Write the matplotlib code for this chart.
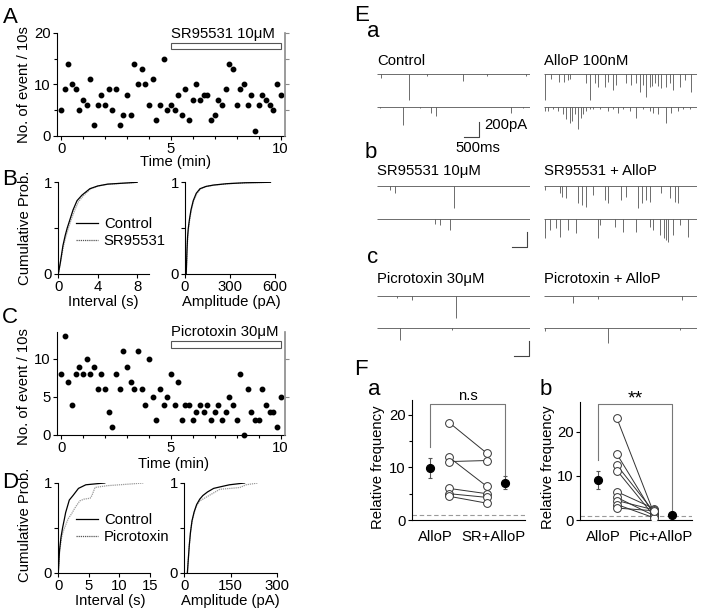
import matplotlib
matplotlib.use('Agg')
import matplotlib.pyplot as plt
import numpy as np
from matplotlib.patches import Rectangle

plt.rcParams['font.family'] = ['Liberation Sans', 'DejaVu Sans']
FS = 10.7
plt.rcParams['font.size'] = FS
plt.rcParams['axes.linewidth'] = 0.8
plt.rcParams['xtick.major.size'] = 3
plt.rcParams['ytick.major.size'] = 3
plt.rcParams['xtick.minor.size'] = 2.5
plt.rcParams['ytick.minor.size'] = 2.5
plt.rcParams['xtick.major.width'] = 0.8
plt.rcParams['ytick.major.width'] = 0.8
plt.rcParams['xtick.minor.width'] = 0.8
plt.rcParams['ytick.minor.width'] = 0.8
plt.rcParams['xtick.major.pad'] = 1.5
plt.rcParams['ytick.major.pad'] = 1.5

# ---------------- data ----------------
# Panel A: events per 10 s bin (61 bins, 0-10 min)
countsA = [5, 9, 14, 10, 9, 5, 7, 6, 11, 2, 6, 8, 6, 9, 5, 9, 2, 4, 8, 4,
           14, 10, 13, 10, 6, 11, 3, 6, 15, 5, 6, 5, 8, 4, 9, 3, 7, 10, 7, 8,
           8, 3, 4, 7, 6, 9, 14, 13, 6, 9, 10, 6, 8, 1, 6, 8, 7, 6, 5, 10, 8]
# Panel C
countsC = [8, 13, 7, 4, 8, 9, 8, 10, 8, 9, 6, 8, 6, 3, 1, 8, 6, 11, 9, 7,
           6, 11, 6, 4, 10, 5, 2, 6, 4, 5, 8, 4, 7, 2, 4, 4, 2, 3, 4, 3,
           4, 2, 3, 4, 2, 3, 5, 4, 2, 8, 0, 6, 3, 2, 2, 6, 4, 3, 3, 1, 5]
bin_minutes = np.arange(61) / 6.0

# Panel B cumulative distributions
B_int_ctrl_x = [0, 0.2, 0.47, 0.7, 0.9, 1.2, 1.5, 1.9, 2.4, 3.2, 4.0, 5.0, 6.5, 8.0]
B_int_ctrl_y = [0, 0.12, 0.31, 0.42, 0.5, 0.6, 0.7, 0.8, 0.86, 0.93, 0.96, 0.98, 0.99, 1.0]
B_int_sr_x = [0, 0.2, 0.5, 0.75, 1.0, 1.3, 1.65, 2.05, 2.6, 3.3, 4.1, 5.1, 6.6, 8.0]
B_int_sr_y = [0, 0.11, 0.29, 0.4, 0.49, 0.59, 0.69, 0.79, 0.86, 0.93, 0.96, 0.98, 0.99, 1.0]
B_amp_ctrl_x = [8, 10, 13, 17, 22, 30, 40, 55, 75, 100, 140, 190, 280, 400, 570]
B_amp_ctrl_y = [0, 0.1, 0.25, 0.4, 0.5, 0.6, 0.7, 0.8, 0.88, 0.93, 0.955, 0.97, 0.985, 0.995, 1.0]
B_amp_sr_x = [9, 11, 14, 18, 24, 32, 43, 58, 80, 105, 145, 200, 290, 410, 570]
B_amp_sr_y = [0, 0.1, 0.25, 0.4, 0.5, 0.6, 0.7, 0.8, 0.88, 0.93, 0.955, 0.97, 0.985, 0.995, 1.0]

# Panel D cumulative distributions
D_int_ctrl_x = [0, 0.2, 0.45, 0.7, 1.0, 1.2, 1.5, 1.8, 2.4, 3.3, 4.5, 6.0, 7.6]
D_int_ctrl_y = [0, 0.25, 0.4, 0.5, 0.6, 0.67, 0.74, 0.81, 0.86, 0.94, 0.98, 0.99, 1.0]
D_int_pic_x = [0, 0.2, 0.5, 0.8, 1.2, 1.6, 2.2, 2.7, 3.5, 4.2, 5.2, 5.5, 6.0, 8.0, 10.0, 12.0, 13.9]
D_int_pic_y = [0, 0.22, 0.38, 0.46, 0.53, 0.6, 0.66, 0.72, 0.8, 0.82, 0.83, 0.86, 0.95, 0.97, 0.98, 0.99, 1.0]
D_amp_ctrl_x = [10, 13, 16, 20, 25, 32, 40, 50, 60, 75, 95, 120, 146, 195]
D_amp_ctrl_y = [0, 0.15, 0.3, 0.45, 0.58, 0.68, 0.76, 0.82, 0.86, 0.9, 0.94, 0.96, 0.98, 1.0]
D_amp_pic_x = [10, 13, 16, 20, 25, 32, 40, 50, 65, 80, 100, 115, 150, 180, 200, 238]
D_amp_pic_y = [0, 0.15, 0.3, 0.45, 0.57, 0.67, 0.75, 0.8, 0.83, 0.86, 0.9, 0.93, 0.94, 0.95, 0.98, 1.0]

# Panel E: event times (s) and amplitudes (pA) for each sweep
E_traces = {
    'ctrl_1': ([0.13, 1.08, 1.67, 2.89, 3.67, 4.97], [55, 345, 25, 95, 25, 25]),
    'ctrl_2': ([0.11, 0.87, 1.44, 1.80, 1.98, 4.47, 4.89], [20, 245, 20, 90, 125, 90, 20]),
    'allo_1': ([0.04, 0.24, 0.5, 0.66, 0.8, 0.88, 1.41, 1.52, 1.69, 1.8, 2.02, 2.13, 2.3, 2.39,
                2.74, 2.91, 3.06, 3.19, 3.3, 3.39, 3.52, 3.6, 3.69, 3.8, 3.91, 4.08, 4.19, 4.3,
                4.52, 4.69, 4.89],
               [347, 71, 102, 102, 80, 71, 124, 347, 124, 169, 169, 102, 213, 147,
                124, 147, 124, 235, 147, 302, 169, 160, 124, 160, 191, 169, 124, 213,
                169, 80, 235]),
    'allo_2': ([0.02, 0.13, 0.3, 0.47, 0.63, 0.74, 0.86, 0.93, 1.02, 1.13, 1.24, 1.3, 1.41, 1.52,
                1.63, 1.86, 2.13, 2.3, 2.47, 2.63, 2.86, 3.08, 3.3, 3.52, 3.63, 3.8, 4.06, 4.24,
                4.47, 4.63, 4.86],
               [58, 58, 36, 58, 102, 169, 213, 191, 102, 300, 147, 102, 58, 36,
                36, 36, 58, 36, 80, 36, 58, 147, 36, 58, 80, 102, 213, 80,
                58, 36, 27]),
    'sr_1': ([0.44, 0.61, 2.59], [53, 98, 297]),
    'sr_2': ([1.94, 2.11, 2.44], [62, 75, 142]),
    'sralo_1': ([0.04, 0.52, 0.61, 0.74, 1.13, 1.28, 1.41, 1.63, 2.02, 2.13, 2.58, 2.74, 3.13,
                 3.28, 3.39, 3.52, 3.91, 4.19, 4.36, 4.47],
                [53, 98, 142, 164, 231, 253, 275, 120, 186, 231, 186, 142, 297,
                 231, 186, 209, 98, 164, 209, 231]),
    'sralo_2': ([0.04, 0.19, 0.41, 0.52, 0.8, 1.08, 1.8, 1.86, 2.36, 2.63, 3.08, 3.52, 3.63,
                 3.86, 3.99, 4.08, 4.13, 4.3, 4.52, 4.8],
                [253, 142, 120, 231, 142, 186, 253, 75, 98, 164, 164, 98, 142,
                 209, 253, 275, 297, 209, 75, 231]),
    'pic_1': ([0.67, 1.17, 2.64], [31, 53, 297]),
    'pic_2': ([0.78, 2.5], [155, 22]),
    'picalo_1': ([0.97, 1.8, 4.61], [98, 44, 53]),
    'picalo_2': ([0.02, 2.13, 4.52], [31, 200, 22]),
}
E_titles = ['Control', 'AlloP 100nM', 'SR95531 10\u03bcM', 'SR95531 + AlloP',
            'Picrotoxin 30\u03bcM', 'Picrotoxin + AlloP']

# Panel F
Fa_allo = [18.5, 11.9, 11.1, 6.0, 5.0, 4.5]
Fa_sr = [12.7, 6.4, 11.3, 5.0, 4.3, 3.2]
Fa_mean = [9.8, 7.0]
Fa_err_lo = [8.0, 5.8]
Fa_err_hi = [11.7, 8.3]
Fb_allo = [23.0, 14.9, 12.4, 11.2, 6.4, 5.1, 4.4, 3.5, 2.7]
Fb_pic = [1.5, 1.2, 1.8, 0.9, 2.6, 1.0, 2.3, 0.5, 2.1]
Fb_mean = [9.0, 1.2]
Fb_err_lo = [7.0, 0.9]
Fb_err_hi = [11.0, 1.5]
F_labels_a = ['AlloP', 'SR+AlloP']
F_labels_b = ['AlloP', 'Pic+AlloP']

# ---------------- figure ----------------
W, H = 709, 611
fig = plt.figure(figsize=(W / 100, H / 100), dpi=100)


def px_axes(l, t, r, b):
    return fig.add_axes([l / W, 1 - b / H, (r - l) / W, (b - t) / H])


def ftext(x, y, s, **kw):
    fig.text(x / W, 1 - y / H, s, **kw)


def style(ax):
    ax.spines['top'].set_visible(False)
    ax.spines['right'].set_visible(False)
    ax.tick_params(direction='out', which='both')


GRAY = '#8a8a8a'


def timecourse(ax, counts, ylim, yt, ymin_minor, right_ticks, drug, bar_y, text_y):
    ax.plot(bin_minutes, counts, 'o', color='black', ms=3.2, clip_on=False, zorder=3)
    ax.set_xlim(-0.2, 10.2)
    ax.set_ylim(*ylim)
    style(ax)
    ax.set_xticks([0, 5, 10])
    ax.set_xticks(np.arange(0, 11, 1), minor=True)
    ax.set_yticks(yt)
    ax.set_yticks(ymin_minor, minor=True)
    tw = ax.twinx()
    tw.set_ylim(*ylim)
    for s in ['top', 'left', 'bottom']:
        tw.spines[s].set_visible(False)
    tw.spines['right'].set_color(GRAY)
    tw.spines['right'].set_linewidth(1.2)
    tw.set_yticks(right_ticks)
    tw.tick_params(axis='y', colors=GRAY, labelright=False, direction='out')
    ax.add_patch(Rectangle((5, bar_y[0]), 5, bar_y[1] - bar_y[0], facecolor='white',
                           edgecolor='#555555', lw=0.8, clip_on=False, zorder=4))
    ax.text(5, text_y, drug, ha='left', va='baseline', fontsize=FS, clip_on=False)


# Panel A
axA = px_axes(56.7, 33, 285, 135.7)
timecourse(axA, countsA, (0, 20), [0, 10, 20], [5, 15], [5, 10, 15, 20],
           'SR95531 10\u03bcM', (16.8, 18.0), 19.1)
# Panel C
axC = px_axes(56.7, 332, 285, 435)
timecourse(axC, countsC, (0, 13.55), [0, 5, 10], [], [5, 10],
           'Picrotoxin 30\u03bcM', (11.5, 12.4), 13.0)

ftext(24, 85, 'No. of event / 10s', rotation=90, ha='center', va='center')
ftext(175, 162, 'Time (min)', ha='center', va='center')
ftext(24, 387, 'No. of event / 10s', rotation=90, ha='center', va='center')
ftext(173, 464, 'Time (min)', ha='center', va='center')


def cdf_axes(ax, xs1, ys1, xs2, ys2, xlim, xt):
    ax.plot(xs1, ys1, color='black', lw=0.9, zorder=3)
    ax.plot(xs2, ys2, color='#9a9a9a', lw=0.9, ls=(0, (1, 0.7)), zorder=2)
    ax.set_xlim(*xlim)
    ax.set_ylim(0, 1)
    style(ax)
    ax.set_xticks(xt)
    ax.set_yticks([0, 0.5, 1])
    ax.set_yticklabels(['0', '', '1'])


axBl = px_axes(58.3, 182.3, 149, 274)
cdf_axes(axBl, B_int_ctrl_x, B_int_ctrl_y, B_int_sr_x, B_int_sr_y, (0, 9.2), [0, 4, 8])
axBr = px_axes(185, 182.3, 275, 274)
cdf_axes(axBr, B_amp_ctrl_x, B_amp_ctrl_y, B_amp_sr_x, B_amp_sr_y, (0, 600), [0, 300, 600])
axDl = px_axes(58.3, 483, 150, 572.7)
cdf_axes(axDl, D_int_ctrl_x, D_int_ctrl_y, D_int_pic_x, D_int_pic_y, (0, 15), [0, 5, 10, 15])
axDr = px_axes(184.3, 483, 277, 572.7)
cdf_axes(axDr, D_amp_ctrl_x, D_amp_ctrl_y, D_amp_pic_x, D_amp_pic_y, (0, 300), [0, 150, 300])

for ax, lab, yanc in [(axBl, 'SR95531', 0.62), (axDl, 'Picrotoxin', 0.665)]:
    h1, = ax.plot([], [], color='black', lw=0.9)
    h2, = ax.plot([], [], color='#555555', lw=0.9, ls=(0, (1, 0.7)))
    ax.legend([h1, h2], ['Control', lab], loc='upper left', bbox_to_anchor=(0.19, yanc),
              frameon=False, handlelength=1.5, handletextpad=0.4, labelspacing=0.2,
              borderaxespad=0, borderpad=0, fontsize=FS)

ftext(25, 228, 'Cumulative Prob.', rotation=90, ha='center', va='center')
ftext(103, 302, 'Interval (s)', ha='center', va='center')
ftext(231, 302, 'Amplitude (pA)', ha='center', va='center')
ftext(25, 525, 'Cumulative Prob.', rotation=90, ha='center', va='center')
ftext(110, 601, 'Interval (s)', ha='center', va='center')
ftext(230, 601, 'Amplitude (pA)', ha='center', va='center')

# Panel E traces
PX_PER_PA = 15 / 200.0
trace_x0 = [376.7, 544.0]
trace_rows = [(74, 106.7), (186, 219.3), (296, 328.3)]
keys = [('ctrl', 'allo'), ('sr', 'sralo'), ('pic', 'picalo')]
trace_axes = {}
for gi, (base1, base2) in enumerate(trace_rows):
    for ci in range(2):
        for ri, base in enumerate([base1, base2]):
            key = keys[gi][ci] + '_' + str(ri + 1)
            ax = px_axes(trace_x0[ci], base - 30 * PX_PER_PA, trace_x0[ci] + 153,
                         base + 420 * PX_PER_PA)
            ax.set_xlim(0, 5.1)
            ax.set_ylim(-420, 30)
            ax.axis('off')
            t, a = E_traces[key]
            ax.hlines(0, 0, 5.1, color='#555555', lw=0.6)
            ax.vlines(t, [-v for v in a], 0, color='#555555', lw=0.6)
            trace_axes[key] = ax

scale_specs = [('ctrl_2', 2.92, -400), ('sr_2', 4.5, -375), ('pic_2', 4.58, -370)]
for key, xs, yb in scale_specs:
    ax = trace_axes[key]
    ax.plot([xs, xs + 0.5, xs + 0.5], [yb, yb, yb + 200], color='#444444', lw=0.8,
            clip_on=False)
ax = trace_axes['ctrl_2']
ax.text(3.58, -245, '200pA', ha='left', va='center', fontsize=FS)
ax.text(3.38, -545, '500ms', ha='center', va='center', fontsize=FS)

title_pos = [(377, 65), (544, 65), (377, 175), (544, 175), (377, 283), (544, 283)]
for (x, y), s in zip(title_pos, E_titles):
    ftext(x, y, s, ha='left', va='baseline')


# Panel F
def fpanel(ax, allo, other, means, lo, hi, ylim, yt, labels, sig, br, sig_y, sig_fs):
    for a, b in zip(allo, other):
        ax.plot([1, 3], [a, b], color='#333333', lw=0.7, zorder=2)
    ax.plot([1] * len(allo), allo, 'o', mfc='white', mec='#333333', ms=5.6, mew=0.7, zorder=3)
    ax.plot([3] * len(other), other, 'o', mfc='white', mec='#333333', ms=5.6, mew=0.7, zorder=3)
    for xi, m, l, h in zip([0, 4], means, lo, hi):
        ax.errorbar(xi, m, yerr=[[m - l], [h - m]], fmt='o', color='black', ms=5.6,
                    ecolor='#555555', elinewidth=0.8, capsize=1.5, capthick=0.8, zorder=4)
    ax.axhline(1, color='#9a9a9a', lw=0.8, ls=(0, (4, 2.5)), zorder=1)
    ax.plot([0, 0, 4, 4], br, color='#777777', lw=0.8, clip_on=False)
    ax.text(2.0, sig_y, sig, ha='center', va='center', fontsize=sig_fs, clip_on=False)
    ax.set_xlim(-1.0, 5.04)
    ax.set_ylim(*ylim)
    style(ax)
    ax.set_yticks(yt)
    ax.set_xticks([0.25, 3.35])
    ax.set_xticklabels(labels)
    ax.tick_params(axis='x', length=0, pad=7)


axFa = px_axes(411.7, 400, 525, 520)
fpanel(axFa, Fa_allo, Fa_sr, Fa_mean, Fa_err_lo, Fa_err_hi, (0, 22.8), [0, 10, 20],
       F_labels_a, 'n.s', [13.9, 22.0, 22.0, 8.3], 23.6, FS)
axFa.set_yticks([5, 15], minor=True)
axFb = px_axes(580, 401.7, 691.7, 520)
fpanel(axFb, Fb_allo, Fb_pic, Fb_mean, Fb_err_lo, Fb_err_hi, (0, 26.8), [0, 10, 20],
       F_labels_b, '**', [13.6, 26.3, 26.3, 2.3], 27.4, 14)
ftext(378, 467, 'Relative frequency', rotation=90, ha='center', va='center')
ftext(548, 467, 'Relative frequency', rotation=90, ha='center', va='center')

# Panel labels
for x, y, s in [(3, 23, 'A'), (2, 185, 'B'), (2, 323, 'C'), (2, 488, 'D'),
                (354, 21, 'E'), (354, 375, 'F')]:
    ftext(x, y, s, fontsize=16, ha='left', va='baseline')
for x, y, s in [(367, 37, 'a'), (365, 158, 'b'), (367, 263, 'c'),
                (368, 395, 'a'), (540, 395, 'b')]:
    ftext(x, y, s, fontsize=16, ha='left', va='baseline')

fig.savefig('out.png', dpi=100)
